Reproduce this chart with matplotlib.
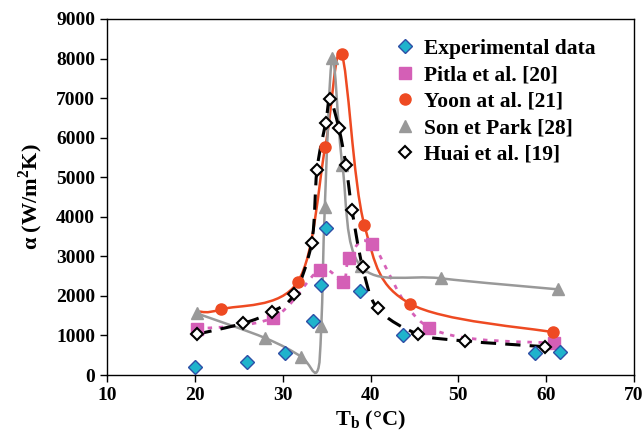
import numpy as np
import matplotlib.pyplot as plt
from matplotlib.path import Path
from matplotlib.patches import PathPatch

plt.rcParams['font.family'] = ['Liberation Serif', 'DejaVu Serif']
plt.rcParams['font.weight'] = 'bold'
plt.rcParams['mathtext.fontset'] = 'custom'
plt.rcParams['mathtext.rm'] = 'Liberation Serif:bold'

# data
exp_x = [20.0, 25.9, 30.3, 33.4, 34.4, 34.9, 38.75, 43.7, 58.7, 61.6]
exp_y = [200, 330, 556, 1365, 2275, 3716, 2131, 1003, 548, 574]

pitla_x = [20.2, 28.9, 34.2, 36.85, 37.6, 40.15, 46.7, 60.9]
pitla_y = [1163, 1448, 2654, 2359, 2966, 3303, 1196, 800]

yoon_x = [20.5, 23.0, 31.7, 34.85, 36.7, 39.3, 44.5, 60.8]
yoon_y = [1600, 1660, 2350, 5771, 8114, 3792, 1803, 1079]
yoon_marked = [1, 2, 3, 4, 5, 6, 7]

son_x = [20.2, 27.95, 32.1, 33.9, 34.4, 34.8, 35.65, 36.8, 38.9, 48.0, 61.3]
son_y = [1560, 940, 463, 80, 1250, 4255, 8005, 5300, 2750, 2444, 2166]
son_marked = [0, 1, 2, 4, 5, 6, 7, 8, 9, 10]

huai_x = [20.2, 25.5, 28.8, 31.3, 33.3, 33.9, 34.9, 35.4, 36.4, 37.2, 37.9,
          39.1, 40.8, 45.4, 50.75, 59.85]
huai_y = [1030, 1306, 1601, 2040, 3345, 5180, 6380, 6970, 6235, 5310, 4170,
          2730, 1686, 1036, 860, 716]

labels = ['Experimental data', 'Pitla et al. [20]', 'Yoon at al. [21]',
          'Son et Park [28]', 'Huai et al. [19]']

fig = plt.figure(figsize=(6.43, 4.36), dpi=100)
ax = fig.add_axes([107/643, 1-375/436, (634-107)/643, (375-19)/436])
ax.set_xlim(10, 70)
ax.set_ylim(0, 9000)


def smooth(xs, ys, **kw):
    # excel-like smoothed line, built in pixel space
    pts = ax.transData.transform(np.column_stack([xs, ys]))
    n = len(pts)
    verts = [pts[0]]
    codes = [Path.MOVETO]
    for i in range(n - 1):
        p0 = pts[max(i - 1, 0)]
        p1 = pts[i]
        p2 = pts[i + 1]
        p3 = pts[min(i + 2, n - 1)]
        verts += [p1 + (p2 - p0) / 6, p2 - (p3 - p1) / 6, p2]
        codes += [Path.CURVE4] * 3
    verts = ax.transData.inverted().transform(np.array(verts))
    ax.add_patch(PathPatch(Path(verts, codes), fill=False, capstyle='butt', **kw))


smooth(pitla_x, pitla_y, color='#d661b8', lw=2.0, ls=(0, (1.6, 2.4)), zorder=2)
smooth(yoon_x, yoon_y, color='#ee4a22', lw=1.8, zorder=2)
smooth(son_x, son_y, color='#999999', lw=1.8, zorder=2)
smooth(huai_x, huai_y, color='black', lw=2.2, ls=(0, (5, 3)), zorder=2)

h = []
h += ax.plot(pitla_x, pitla_y, ls='none', marker='s', ms=8, color='#d45fb6', zorder=3)
h += ax.plot(yoon_x, yoon_y, ls='none', marker='o', ms=8, color='#ee4a22',
             markevery=yoon_marked, zorder=3.1)
h += ax.plot(son_x, son_y, ls='none', marker='^', ms=9, color='#999999',
             markevery=son_marked, zorder=3.2)
h += ax.plot(huai_x, huai_y, ls='none', marker='D', ms=6.5, mfc='white',
             mec='black', mew=1.5, zorder=4)
h = ax.plot(exp_x, exp_y, ls='none', marker='D', ms=7, mfc='#1fb3cc',
            mec='#2d4fa6', mew=1, zorder=5) + h

ax.legend(h, labels, loc='upper left', bbox_to_anchor=(383/643, 1-28/436),
          bbox_transform=fig.transFigure, frameon=False, fontsize=15.5,
          handlelength=1.0, handletextpad=0.4, labelspacing=0.3, borderpad=0)

ax.set_xticks(range(10, 71, 10))
ax.set_yticks(range(0, 9001, 1000))
ax.tick_params(direction='out', length=5, width=1, labelsize=14)
for s in ax.spines.values():
    s.set_linewidth(1)

ax.set_xlabel('T$_\\mathrm{b}$ (°C)', fontsize=16, fontweight='bold', labelpad=4)
ax.set_ylabel('α (W/m$^\\mathrm{2}$K)', fontsize=16, fontweight='bold', labelpad=8)

fig.savefig('out.png', dpi=100)
